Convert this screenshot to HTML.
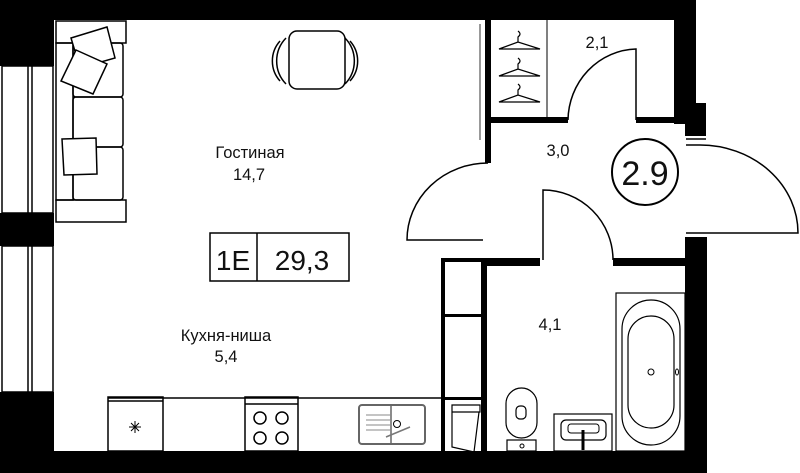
<!DOCTYPE html>
<html><head><meta charset="utf-8"><style>
html,body{margin:0;padding:0;background:#fff;width:800px;height:473px;overflow:hidden}
svg{display:block}
text{font-family:"Liberation Sans","Noto Sans CJK SC",sans-serif;fill:#111}
</style></head><body>
<svg width="800" height="473" viewBox="0 0 800 473" xmlns="http://www.w3.org/2000/svg">
<g fill="#000">
<rect x="0" y="0" width="696" height="20"/>
<rect x="0" y="0" width="54" height="66"/>
<rect x="0" y="213" width="54" height="33"/>
<rect x="0" y="392" width="54" height="81"/>
<rect x="0" y="451" width="707" height="22"/>
<rect x="674" y="0" width="22" height="124"/>
<rect x="685" y="103" width="21" height="33"/>
<rect x="685" y="237" width="22" height="236"/>
<rect x="485" y="20" width="6" height="143"/>
<rect x="491" y="117" width="77" height="6"/>
<rect x="636" y="117" width="38" height="6"/>
<rect x="482" y="258" width="58" height="8"/>
<rect x="613" y="258" width="72" height="8"/>
<rect x="481" y="258" width="6" height="193"/>
<rect x="441" y="258" width="4" height="193"/>
<rect x="441" y="258" width="40" height="4"/>
<rect x="445" y="314" width="36" height="3"/>
<rect x="445" y="397" width="36" height="3"/>
</g>
<g fill="none" stroke="#000" stroke-width="1.5">
<rect x="2" y="66" width="51" height="147"/><line x1="28" y1="66" x2="28" y2="213"/><line x1="32" y1="66" x2="32" y2="213"/>
<rect x="2" y="246" width="51" height="146"/><line x1="28" y1="246" x2="28" y2="392"/><line x1="32" y1="246" x2="32" y2="392"/>
<rect x="56" y="21" width="70" height="22"/>
<rect x="56" y="200" width="70" height="22"/>
<rect x="56" y="43" width="17" height="157"/>
<rect x="73" y="43" width="50" height="54" rx="3"/>
<rect x="73" y="97" width="50" height="50" rx="3"/>
<rect x="73" y="147" width="50" height="53" rx="3"/>
<path d="M71 38 L107 27 L115 58 L80 68 Z" fill="#fff"/>
<path d="M76 50 L107 64 L93 94 L61 81 Z" fill="#fff"/>
<path d="M62 139 L96 138 L97 174 L64 175 Z" fill="#fff"/>
<rect x="289" y="31" width="56" height="58" rx="8"/>
<path d="M280 41 A30 30 0 0 0 280 81"/><path d="M286 38 A33 33 0 0 0 286 84"/>
<path d="M350 41 A30 30 0 0 1 350 81"/><path d="M345 38 A33 33 0 0 1 345 84"/>
<rect x="210" y="233" width="139" height="48"/><line x1="257" y1="233" x2="257" y2="281"/>
<line x1="108" y1="398" x2="441" y2="398"/>
<rect x="108" y="397" width="55" height="54"/>
<line x1="108" y1="401" x2="163" y2="401"/>
<path d="M129 427 h12 M135 421 v12 M131 423 l8 8 M139 423 l-8 8" stroke-width="1"/>
<rect x="245" y="397" width="53" height="54"/>
<line x1="245" y1="404" x2="298" y2="404"/>
<circle cx="260" cy="418" r="6"/><circle cx="282" cy="418" r="6"/>
<circle cx="260" cy="438" r="6"/><circle cx="282" cy="438" r="6"/>
<rect x="359" y="405" width="66" height="39" rx="3" stroke="#666" stroke-width="2"/>
<line x1="391" y1="405" x2="391" y2="444" stroke="#666"/>
<path d="M366 415 h25 M366 420 h25 M366 425 h25 M366 430 h25" stroke="#888" stroke-width="1"/>
<circle cx="397" cy="424" r="3.5" stroke-width="1"/>
<path d="M386 437 l24 -10" stroke="#777"/>
<path d="M452 405 h28 v7 h-28 z M452 412 h27 l-5 40 l-22 -5 z" stroke-width="1.2"/>
<line x1="547" y1="20" x2="547" y2="117" stroke-width="1"/>
<line x1="480" y1="24" x2="480" y2="140" stroke="#999" stroke-width="2"/>
<g stroke-width="1.2">
<path d="M499 49 L518 42 L540 49 Z M518 42 v-5 q4 -3 0 -6"/>
<path d="M499 76 L518 69 L540 76 Z M518 69 v-5 q4 -3 0 -6"/>
<path d="M499 102 L518 95 L540 102 Z M518 95 v-5 q4 -3 0 -6"/>
</g>
<path d="M636 120 V49 A70 72 0 0 0 568 120"/>
<path d="M488 163 A81 77 0 0 0 407 240 H483"/>
<path d="M543 260 V190 A70 70 0 0 1 613 260"/>
<path d="M686 145 H700 A98 88 0 0 1 798 233 H686"/>
<path d="M686 139 H706"/>
<circle cx="645" cy="172" r="33" stroke-width="2"/>
<rect x="616" y="293" width="69" height="158" stroke-width="1.2"/>
<rect x="622" y="300" width="58" height="145" rx="29" stroke-width="1.2"/>
<rect x="628" y="316" width="46" height="112" rx="23" stroke-width="1.2"/>
<circle cx="651" cy="372" r="3" stroke-width="1"/>
<ellipse cx="677" cy="372" rx="1.5" ry="3" stroke-width="1"/>
<rect x="506" y="388" width="31" height="50" rx="15.5" stroke-width="1.2"/>
<rect x="507" y="440" width="29" height="11" stroke-width="1.2"/>
<rect x="516" y="406" width="10" height="13" rx="4" stroke-width="1.2"/>
<circle cx="522" cy="446" r="2" stroke-width="1"/>
<rect x="554" y="414" width="58" height="37" stroke-width="1.2"/>
<rect x="561" y="420" width="45" height="20" rx="5" stroke-width="1.2"/>
<rect x="568" y="424" width="31" height="9" rx="3" stroke-width="1"/>
<line x1="583" y1="430" x2="583" y2="450" stroke-width="3"/>
</g>
<text x="250" y="158" font-size="16.5" text-anchor="middle">Гостиная</text>
<text x="249" y="180" font-size="16.5" text-anchor="middle">14,7</text>
<text x="233" y="270" font-size="28" text-anchor="middle">1E</text>
<text x="302" y="270" font-size="28" text-anchor="middle">29,3</text>
<text x="226" y="341" font-size="16.5" text-anchor="middle">Кухня-ниша</text>
<text x="226" y="362" font-size="16.5" text-anchor="middle">5,4</text>
<text x="558" y="156" font-size="16.5" text-anchor="middle">3,0</text>
<text x="597" y="48" font-size="16.5" text-anchor="middle">2,1</text>
<text x="550" y="330" font-size="16.5" text-anchor="middle">4,1</text>
<text x="645" y="185" font-size="34" text-anchor="middle">2.9</text>
</svg>
</body></html>
